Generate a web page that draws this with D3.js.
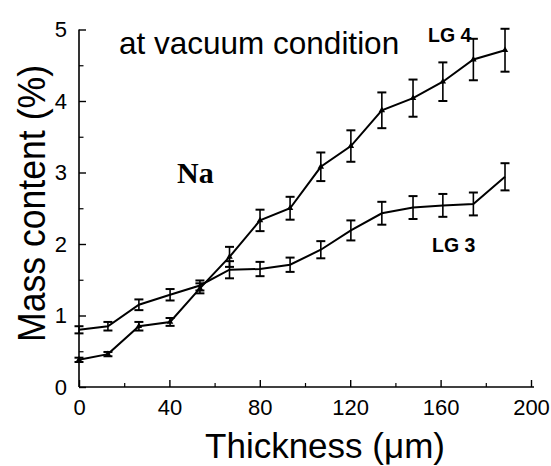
<!DOCTYPE html>
<html><head><meta charset="utf-8">
<script src="https://cdn.jsdelivr.net/npm/d3@7"></script>
<style>body{margin:0;background:#fff}svg{display:block}text{font-family:"Liberation Sans",Arial,sans-serif;fill:#000}</style>
</head><body><svg id="c" width="551" height="466"></svg>
<script>
const thickness = [0,12.8,26.5,40.3,53.5,66.6,80.1,93.4,107,120.3,134,147.8,161,174.5,188.5];
const lg3 = [0.80,0.85,1.15,1.29,1.42,1.64,1.65,1.71,1.92,2.19,2.43,2.51,2.54,2.56,2.94];
const lg3Err = [0.05,0.06,0.075,0.08,0.07,0.12,0.1,0.1,0.12,0.14,0.16,0.16,0.16,0.16,0.19];
const lg4 = [0.38,0.46,0.85,0.91,1.38,1.82,2.33,2.50,3.08,3.37,3.87,4.04,4.27,4.58,4.71];
const lg4Err = [0.03,0.03,0.06,0.055,0.07,0.14,0.15,0.16,0.2,0.22,0.25,0.26,0.27,0.29,0.3];
const xTicks = [0,40,80,120,160,200];
const yTicks = [0,1,2,3,4,5];

const svg = d3.select("#c");
const x = d3.scaleLinear().domain([0,200]).range([79,531]);
const y = d3.scaleLinear().domain([0,5]).range([387,29.5]);

// axes
const xAxis = d3.axisBottom(x).tickValues(xTicks).tickSize(-7).tickPadding(12).tickFormat(d3.format("d"));
const gx = svg.append("g").attr("transform",`translate(0,${y(0)})`).call(xAxis);
gx.select(".domain").attr("d",`M${x(0)},0H${x(200)+3}`).attr("stroke","#000").attr("stroke-width",1.6);
gx.selectAll(".tick line").attr("stroke-width",1.4);
gx.selectAll(".tick text").attr("font-size",22).attr("dy","0.75em").attr("y",11);
const gxm = svg.append("g").attr("transform",`translate(0,${y(0)})`)
  .call(d3.axisBottom(x).tickValues([20,60,100,140,180]).tickSize(-4).tickFormat(""));
gxm.select(".domain").remove();
gxm.selectAll(".tick line").attr("stroke-width",1.2);

const yAxis = d3.axisLeft(y).tickValues(yTicks).tickSize(-7).tickPadding(12).tickFormat(d3.format("d"));
const gy = svg.append("g").attr("transform",`translate(${x(0)},0)`).call(yAxis);
gy.select(".domain").attr("d",`M0,${y(0)}V${y(5)}`).attr("stroke","#000").attr("stroke-width",1.6);
gy.selectAll(".tick line").attr("stroke-width",1.4);
gy.selectAll(".tick text").attr("font-size",22);
const gym = svg.append("g").attr("transform",`translate(${x(0)},0)`)
  .call(d3.axisLeft(y).tickValues([0.5,1.5,2.5,3.5,4.5]).tickSize(-4.5).tickFormat(""));
gym.select(".domain").remove();
gym.selectAll(".tick line").attr("stroke-width",1.2);

// series
function drawSeries(vals, errs, symType){
  const pts = thickness.map((t,i)=>({t, v:vals[i], e:errs[i]}));
  const g = svg.append("g");
  g.append("path").datum(pts)
    .attr("d", d3.line().x(d=>x(d.t)).y(d=>y(d.v)))
    .attr("fill","none").attr("stroke","#000").attr("stroke-width",2);
  const eb = g.selectAll(".eb").data(pts).join("g");
  eb.append("line").attr("x1",d=>x(d.t)).attr("x2",d=>x(d.t))
    .attr("y1",d=>y(d.v-d.e)).attr("y2",d=>y(d.v+d.e)).attr("stroke","#000").attr("stroke-width",1.6);
  [1,-1].forEach(s=>{
    eb.append("line").attr("x1",d=>x(d.t)-4.5).attr("x2",d=>x(d.t)+4.5)
      .attr("y1",d=>y(d.v+s*d.e)).attr("y2",d=>y(d.v+s*d.e)).attr("stroke","#000").attr("stroke-width",2);
  });
  g.selectAll(".m").data(pts).join("path")
    .attr("transform",d=>`translate(${x(d.t)},${y(d.v)})`)
    .attr("d", d3.symbol().type(symType).size(18))
    .attr("fill","#000");
}
drawSeries(lg3, lg3Err, d3.symbolTimes);
drawSeries(lg4, lg4Err, d3.symbolTriangle);

// labels
svg.append("text").attr("x",119).attr("y",54).attr("font-size",31.5).text("at vacuum condition");
svg.append("text").attr("x",428).attr("y",42).attr("font-size",19.5).attr("font-weight","bold").text("LG 4");
svg.append("text").attr("x",432).attr("y",251.5).attr("font-size",19.5).attr("font-weight","bold").text("LG 3");
svg.append("text").attr("x",177).attr("y",183).attr("font-size",30).attr("font-weight","bold")
  .style("font-family","'Liberation Serif','Times New Roman',serif").text("Na");
svg.append("text").attr("x",325).attr("y",458).attr("font-size",35).attr("text-anchor","middle").text("Thickness (μm)");
svg.append("text").attr("transform","translate(45,203.5) rotate(-90)").attr("font-size",38).attr("text-anchor","middle")
  .attr("textLength",277).attr("lengthAdjust","spacingAndGlyphs").text("Mass content (%)");
</script></body></html>
